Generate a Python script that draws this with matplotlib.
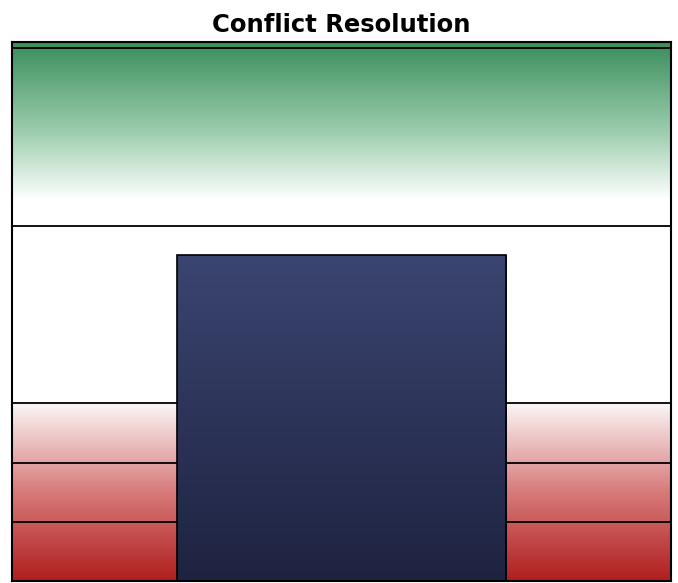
import numpy as np
import matplotlib
matplotlib.use("Agg")
import matplotlib.pyplot as plt
from matplotlib.colors import LinearSegmentedColormap

# chart data
title = "Conflict Resolution"
red_edges = [0, 1, 2, 3]        # poor ranges
neutral_edges = [3, 6]          # neutral range
green_edges = [6, 9]            # good range
axis_max = 9.1
bar_value = 5.5

fig = plt.figure(figsize=(6.78, 5.83), dpi=100)
ax = fig.add_axes([12 / 678, 2 / 583, 659 / 678, 539 / 583])
ax.set_xlim(-0.5, 0.5)
ax.set_ylim(0, axis_max)

# red gradient (white at top of poor range, dark red at bottom)
red_cmap = LinearSegmentedColormap.from_list("red", ["#b01e1e", "#d77a7a", "#fbf6f6"])
grad = np.linspace(0, 1, 256).reshape(-1, 1)
ax.imshow(grad, cmap=red_cmap, aspect="auto", origin="lower",
          extent=[-0.5, 0.5, red_edges[0], red_edges[-1]], zorder=1)

# green gradient (dark at top, fading to white)
green_cmap = LinearSegmentedColormap.from_list(
    "green", [(0, "#ffffff"), (0.14, "#ffffff"), (0.5, "#9fcfb0"), (1, "#3a8d5b")])
ax.imshow(grad, cmap=green_cmap, aspect="auto", origin="lower",
          extent=[-0.5, 0.5, green_edges[0], axis_max], zorder=1)

# band boundary lines
for y in red_edges[1:] + neutral_edges[1:] + green_edges[1:]:
    ax.axhline(y, color="black", lw=1.3, zorder=2)

# bar with vertical gradient
bars = ax.bar([0], [bar_value], width=0.5, color="none", edgecolor="black",
              lw=1.2, zorder=4)
bar_cmap = LinearSegmentedColormap.from_list("bar", ["#1e2340", "#3b4571"])
im = ax.imshow(grad, cmap=bar_cmap, aspect="auto", origin="lower",
               extent=[-0.25, 0.25, 0, bar_value], zorder=3)
im.set_clip_path(bars[0])
ax.set_xlim(-0.5, 0.5)
ax.set_ylim(0, axis_max)

ax.set_xticks([])
ax.set_yticks([])
for s in ax.spines.values():
    s.set_linewidth(1.5)
    s.set_color("black")
    s.set_zorder(5)

ax.set_title(title, fontsize=17.5, fontweight="bold", pad=7)

fig.savefig("out.png", dpi=100)
